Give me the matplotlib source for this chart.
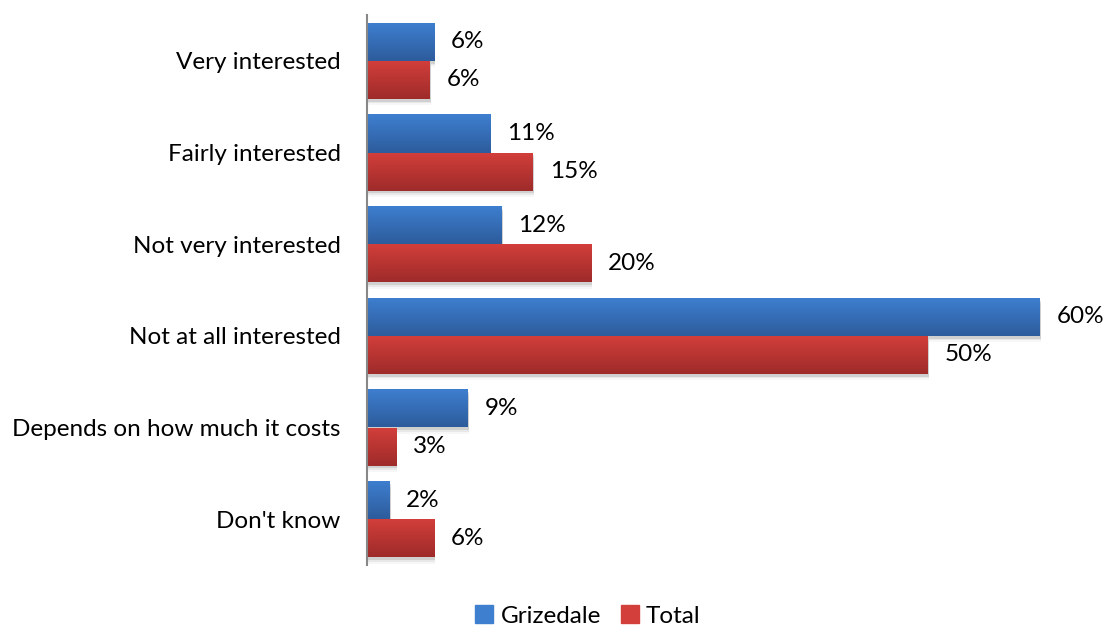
import matplotlib
matplotlib.use("Agg")
from matplotlib import pyplot as plt
from matplotlib.patches import Rectangle
import matplotlib.colors as mcolors
import numpy as np

plt.rcParams['font.family'] = ['Lato', 'DejaVu Sans']

categorias = ["Very interested", "Fairly interested", "Not very interested",
              "Not at all interested", "Depends on how much it costs", "Don't know"]
grizedale = [6, 11, 12, 60, 9, 2]
total = [5.6, 14.8, 20, 50, 2.6, 6]
series = ["Grizedale", "Total"]

# colores de degradado (arriba, abajo)
azul = ("#3e7fd0", "#2d5c9c")
rojo = ("#d33f3b", "#9e2b2a")
fs = 17.5


def barra_degradado(ax, x0, y0, w, h, cols):
	# sombra suave debajo de la barra
	for k, a in enumerate([0.10, 0.06, 0.03]):
		ax.add_patch(Rectangle((x0 + 0.1, y0 - 0.03 - 0.02 * k), w, h, color="black",
					alpha=a, lw=0, zorder=1))
	cmap = mcolors.LinearSegmentedColormap.from_list("g", [cols[1], cols[0]])
	grad = np.linspace(0, 1, 64).reshape(-1, 1)
	im = ax.imshow(grad, cmap=cmap, extent=(x0, x0 + w, y0, y0 + h), origin="lower",
			aspect="auto", zorder=2, interpolation="bicubic")
	rect = Rectangle((x0, y0), w, h, transform=ax.transData, fill=False, lw=0)
	ax.add_patch(rect)
	im.set_clip_path(rect)


fig = plt.figure(figsize=(11.04, 6.26), dpi=100)
ax = fig.add_axes([367 / 1104, 1 - 565 / 626, 729 / 1104, 550 / 626])

n = len(categorias)
alto = 0.415
for i in range(n):
	yc = n - 1 - i + 0.5
	barra_degradado(ax, 0, yc, grizedale[i], alto, azul)
	barra_degradado(ax, 0, yc - alto, total[i], alto, rojo)
	ax.text(grizedale[i] + 1.5, yc + alto / 2, "%.0f%%" % grizedale[i], va="center",
			ha="left", fontsize=fs)
	ax.text(total[i] + 1.5, yc - alto / 2, "%.0f%%" % total[i], va="center",
			ha="left", fontsize=fs)

ax.set_xlim(0, 65)
ax.set_ylim(0, n)
ax.set_yticks([n - 1 - i + 0.5 for i in range(n)])
ax.set_yticklabels(categorias, fontsize=fs)
ax.tick_params(axis="y", length=0, pad=19)
ax.set_xticks([])
for s in ["top", "right", "bottom"]:
	ax.spines[s].set_visible(False)
ax.spines["left"].set_color("#888888")
ax.spines["left"].set_linewidth(1.5)

handles = [Rectangle((0, 0), 1, 1, color=azul[0]), Rectangle((0, 0), 1, 1, color=rojo[0])]
fig.legend(handles, series, loc="center", bbox_to_anchor=(588 / 1104, 1 - 616 / 626),
		ncol=2, frameon=False, fontsize=fs, handlelength=0.75, handleheight=0.75,
		handletextpad=0.3, columnspacing=0.8)

fig.savefig("out.png", dpi=100)
